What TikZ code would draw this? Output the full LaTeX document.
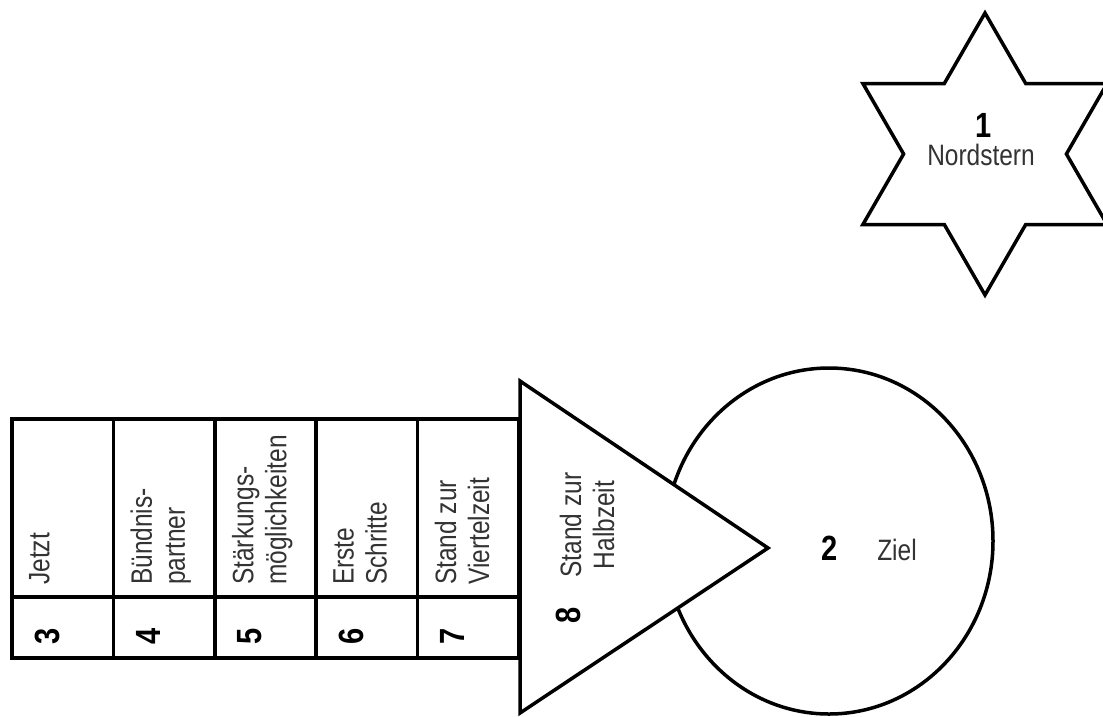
\documentclass[tikz,border=0pt]{standalone}
\usepackage{fontspec}
\setmainfont{Liberation Sans}
\newfontfamily\reffont[FakeStretch=0.83]{Liberation Sans}
\usetikzlibrary{shapes.geometric, positioning}

\begin{document}
\begin{tikzpicture}[
    x=1pt, y=-1pt,
    outline/.style={draw=black, line width=3.5pt, line join=miter},
    cell/.style={outline, fill=white, minimum width=101.4pt, inner sep=0pt, outer sep=0pt},
    topcell/.style={cell, minimum height=178pt},
    numcell/.style={cell, minimum height=61pt},
    txt/.style={inner sep=0pt, text=black!80, font=\reffont\fontsize{29.5}{33}\selectfont},
    num/.style={inner sep=0pt, text=black, font=\reffont\fontsize{35}{33}\selectfont\bfseries},
    celltext/.style={txt, rotate=90, anchor=north west, align=left},
    cellnum/.style={num, rotate=90}
]
\fontsize{29.5}{33}\selectfont
\useasboundingbox (0,0) rectangle (1103,716);

% Goal
\node (ziel) [outline, ellipse, minimum width=328pt, minimum height=346pt, inner sep=0pt, outer sep=0pt] at (829,541) {};
\node (zielnum) [num, anchor=base] at (830,560) {2};
\node (zieltext) [txt, anchor=base] at (897,560) {Ziel};

% Half time
\coordinate (tritop) at (520,381);
\coordinate (tritip) at (768,548);
\coordinate (tribottom) at (520,713);
\draw [outline, fill=white] (tritop) -- (tritip) -- (tribottom) -- cycle;
\node (halbzeit) [txt, rotate=90, align=center] at (587,525) {Stand zur\\Halbzeit};
\node (num8) [cellnum] at (568,615) {8};

% Table
\node (jetzt) [topcell] at (62.7,508) {};
\node (partner) [topcell, right=0pt of jetzt] {};
\node (staerkung) [topcell, right=0pt of partner] {};
\node (schritte) [topcell, right=0pt of staerkung] {};
\node (viertel) [topcell, right=0pt of schritte] {};
\node (jetztnum) [numcell, below=0pt of jetzt] {};
\node (partnernum) [numcell, below=0pt of partner] {};
\node (staerkungnum) [numcell, below=0pt of staerkung] {};
\node (schrittenum) [numcell, below=0pt of schritte] {};
\node (viertelnum) [numcell, below=0pt of viertel] {};

% Texts
\node (jetzttext) [celltext] at ([xshift=17pt, yshift=12pt]jetzt.south west) {Jetzt};
\node (partnertext) [celltext] at ([xshift=17pt, yshift=12pt]partner.south west) {Bündnis-\\partner};
\node (staerkungtext) [celltext] at ([xshift=17pt, yshift=12pt]staerkung.south west) {Stärkungs-\\möglichkeiten};
\node (schrittetext) [celltext] at ([xshift=17pt, yshift=12pt]schritte.south west) {Erste\\Schritte};
\node (vierteltext) [celltext] at ([xshift=17pt, yshift=12pt]viertel.south west) {Stand zur\\Viertelzeit};

% Numbers
\node (num3) [cellnum] at ([xshift=35pt, yshift=-8.5pt]jetztnum.west) {3};
\node (num4) [cellnum] at ([xshift=35pt, yshift=-8.5pt]partnernum.west) {4};
\node (num5) [cellnum] at ([xshift=35pt, yshift=-8.5pt]staerkungnum.west) {5};
\node (num6) [cellnum] at ([xshift=35pt, yshift=-8.5pt]schrittenum.west) {6};
\node (num7) [cellnum] at ([xshift=35pt, yshift=-8.5pt]viertelnum.west) {7};

% North star
\draw [outline, fill=white, shift={(985,154)}] (90:141) -- (120:81.4) -- (150:141) -- (180:81.4)
    -- (210:141) -- (240:81.4) -- (270:141) -- (300:81.4) -- (330:141) -- (0:81.4)
    -- (30:141) -- (60:81.4) -- cycle;
\node (nordnum) [num, anchor=base] at (984,137) {1};
\node (nordtext) [txt, anchor=base] at (981,165) {Nordstern};

\end{tikzpicture}
\end{document}
